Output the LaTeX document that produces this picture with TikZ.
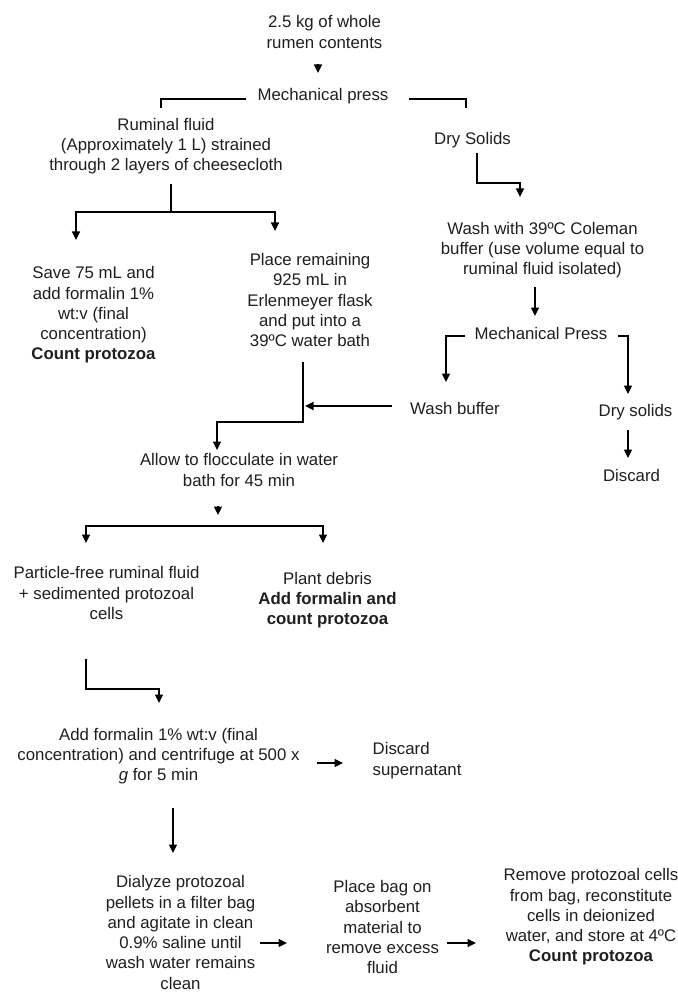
\documentclass[tikz,border=0pt]{standalone}
\usepackage{fontspec}
\setmainfont{Liberation Sans}
\usetikzlibrary{arrows.meta}
\begin{document}
\begin{tikzpicture}[x=1pt,y=-1pt,
  lbl/.style={font=\fontsize{16.8}{20.3}\selectfont, align=center, inner sep=0pt, text=black!88},
  ln/.style={line width=1.2pt, draw=black},
  arr/.style={ln, -{Triangle[width=8pt,length=8.5pt]}}]
\useasboundingbox[fill=white] (0,0) rectangle (677,992);

% ---------- text nodes ----------
\node[lbl] (top) at (324.5,32) {2.5 kg of whole\\rumen contents};
\node[lbl] (press1) at (323,96) {Mechanical press};
\node[lbl] (rumfl) at (166,146) {Ruminal fluid\\(Approximately 1 L) strained\\through 2 layers of cheesecloth};
\node[lbl] (dry1) at (472.5,140) {Dry Solids};
\node[lbl] (save) at (93.5,315) {Save 75 mL and\\add formalin 1\%\\wt:v (final\\concentration)\\\textbf{Count protozoa}};
\node[lbl] (place) at (310,300) {Place remaining\\925 mL in\\Erlenmeyer flask\\and put into a\\39ºC water bath};
\node[lbl] (wash) at (542.5,250) {Wash with 39ºC Coleman\\buffer (use volume equal to\\ruminal fluid isolated)};
\node[lbl] (press2) at (541,333) {Mechanical Press};
\node[lbl] (washbuf) at (455,408) {Wash buffer};
\node[lbl] (dry2) at (635.5,412) {Dry solids};
\node[lbl] (disc1) at (631.5,475) {Discard};
\node[lbl] (floc) at (239,470) {Allow to flocculate in water\\bath for 45 min};
\node[lbl] (pfree) at (106.5,593) {Particle-free ruminal fluid\\+ sedimented protozoal\\cells};
\node[lbl] (plant) at (327.5,600) {Plant debris\\\textbf{Add formalin and}\\\textbf{count protozoa}};
\node[lbl] (centr) at (158.5,756) {Add formalin 1\% wt:v (final\\concentration) and centrifuge at 500 x\\\textit{g} for 5 min};
\node[lbl, align=left, anchor=west] (dsup) at (372.5,760.5) {Discard\\supernatant};
\node[lbl] (dial) at (180.5,932.5) {Dialyze protozoal\\pellets in a filter bag\\and agitate in clean\\0.9\% saline until\\wash water remains\\clean};
\node[lbl] (pbag) at (382.5,927) {Place bag on\\absorbent\\material to\\remove excess\\fluid};
\node[lbl] (remv) at (591,917) {Remove protozoal cells\\from bag, reconstitute\\cells in deionized\\water, and store at 4ºC\\\textbf{Count protozoa}};

% ---------- connector points ----------
\coordinate (topA) at (318,64);   \coordinate (topB) at (318,73);
\coordinate (pLa) at (246,99);    \coordinate (pLb) at (161,99);   \coordinate (pLc) at (161,108);
\coordinate (pRa) at (409,99);    \coordinate (pRb) at (466,99);   \coordinate (pRc) at (466,108);
\coordinate (rA) at (171,184);    \coordinate (rB) at (171,212);
\coordinate (rL) at (76,240);     \coordinate (rR) at (275,231);
\coordinate (dA) at (477,153);    \coordinate (dB) at (477,183);   \coordinate (dC) at (520,183); \coordinate (dD) at (520,197);
\coordinate (wA) at (535,287);    \coordinate (wB) at (535,316);
\coordinate (qLa) at (465,336);   \coordinate (qLb) at (446,336);  \coordinate (qLc) at (446,382);
\coordinate (qRa) at (618,336);   \coordinate (qRb) at (628,336);  \coordinate (qRc) at (628,394);
\coordinate (ddA) at (628,430);   \coordinate (ddB) at (628,458);
\coordinate (wbA) at (392,406);   \coordinate (wbB) at (305,406);
\coordinate (plA) at (303,362);   \coordinate (plB) at (303,422);  \coordinate (plC) at (217,422); \coordinate (plD) at (217,450);
\coordinate (fA) at (218,506);    \coordinate (fB) at (218,515);
\coordinate (sM) at (200,526);    \coordinate (sL) at (86,543);    \coordinate (sR) at (323,543);
\coordinate (pfA) at (86,659);    \coordinate (pfB) at (86,689);   \coordinate (pfC) at (159,689); \coordinate (pfD) at (159,703);
\coordinate (cA) at (317,763);    \coordinate (cB) at (343,763);
\coordinate (cdA) at (173,808);   \coordinate (cdB) at (173,853);
\coordinate (bA) at (260,943);    \coordinate (bB) at (287,943);
\coordinate (eA) at (447,943);    \coordinate (eB) at (476,943);

% ---------- connectors ----------
\draw[arr] (topA) -- (topB);
\draw[ln] (pLa) -- (pLb) -- (pLc);
\draw[ln] (pRa) -- (pRb) -- (pRc);
\draw[ln] (rA) -- (rB);
\draw[arr] (rB) -| (rL);
\draw[arr] (rB) -| (rR);
\draw[arr] (dA) -- (dB) -- (dC) -- (dD);
\draw[arr] (wA) -- (wB);
\draw[arr] (qLa) -- (qLb) -- (qLc);
\draw[arr] (qRa) -- (qRb) -- (qRc);
\draw[arr] (ddA) -- (ddB);
\draw[arr] (wbA) -- (wbB);
\draw[arr] (plA) -- (plB) -- (plC) -- (plD);
\draw[arr] (fA) -- (fB);
\draw[arr] (sM) -| (sL);
\draw[arr] (sM) -| (sR);
\draw[arr] (pfA) -- (pfB) -- (pfC) -- (pfD);
\draw[arr] (cA) -- (cB);
\draw[arr] (cdA) -- (cdB);
\draw[arr] (bA) -- (bB);
\draw[arr] (eA) -- (eB);
\end{tikzpicture}
\end{document}
